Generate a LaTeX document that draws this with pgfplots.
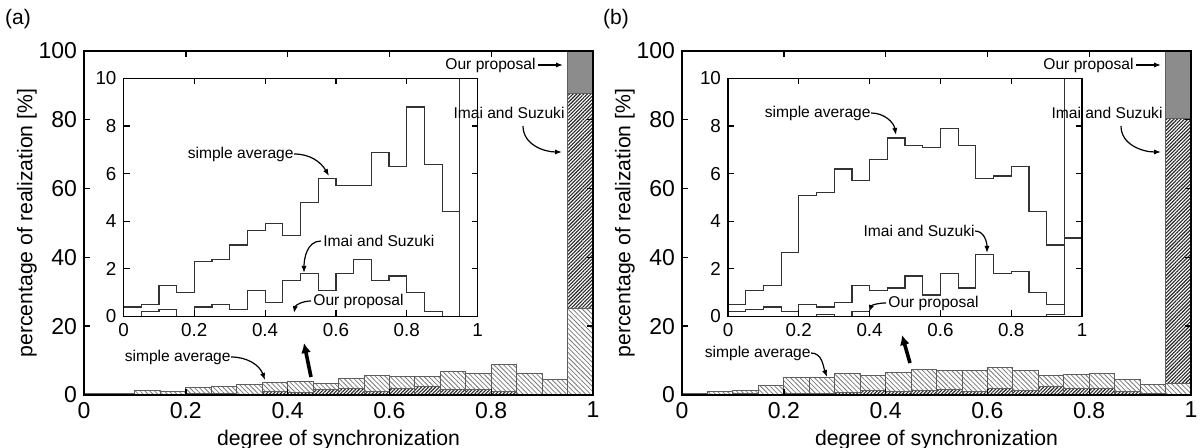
\documentclass[border=0pt]{standalone}
\usepackage{fontspec}
\setmainfont{Liberation Sans}
\usepackage{pgfplots}
\usepackage{pgfplotstable}
\pgfplotsset{compat=1.18}
\usetikzlibrary{patterns.meta,arrows.meta}

\definecolor{bargray}{HTML}{5E5E5E}
\definecolor{simplehatch}{HTML}{7A7A7A}
\definecolor{imaihatch}{HTML}{262626}
\definecolor{ourfill}{HTML}{8C8C8C}
\definecolor{stepline}{HTML}{333333}

% left bin edges; last row only closes the step line at x=1
\pgfplotstableread{
x    simple imai our
0.00 0.4  0.0  0
0.05 0.5  0.2  0
0.10 1.3  0.3  0
0.15 1.0  0.0  0
0.20 2.3  0.4  0
0.25 2.4  0.5  0
0.30 3.0  0.3  0
0.35 3.6  1.1  0
0.40 3.9  0.6  0
0.45 3.4  1.5  0
0.50 4.8  1.8  0
0.55 5.8  1.1  0
0.60 5.5  1.8  0
0.65 5.5  2.4  0
0.70 6.9  1.5  0
0.75 6.3  1.7  0
0.80 8.8  1.0  0
0.85 6.4  0.2  0
0.90 4.4  0.0  0
0.95 25.3 87.7 100
1.00 25.3 87.7 100
}\dataA

\pgfplotstableread{
x    simple imai our
0.00 0.5  0.2  0
0.05 1.1  0.3  0
0.10 1.3  0.4  0
0.15 2.7  0.2  0
0.20 5.1  0.5  0
0.25 5.2  0.4  0.1
0.30 6.2  0.6  0
0.35 5.7  1.3  0.2
0.40 6.6  1.1  0
0.45 7.5  1.2  0
0.50 7.2  1.7  0
0.55 7.1  0.9  0
0.60 7.9  1.8  0
0.65 7.2  1.2  0
0.70 5.8  2.6  0
0.75 5.9  1.8  0
0.80 6.3  1.9  0
0.85 4.4  1.0  0
0.90 3.0  0.5  0.1
0.95 3.3  80.4 100
1.00 3.3  80.4 100
}\dataB

\pgfplotsset{
  mainax/.style={
    scale only axis, width=254.5pt, height=172pt,
    xmin=0, xmax=1, ymin=0, ymax=100,
    xtick={0,0.2,0.4,0.6,0.8,1}, ytick={0,20,40,60,80,100},
    /pgf/number format/assume math mode=true,
    tick label style={font=\fontsize{11.5}{13}\selectfont},
    xticklabel style={inner xsep=0pt},
    label style={font=\fontsize{10.6}{12}\selectfont},
    xlabel={degree of synchronization},
    ylabel={percentage of realization [\%]},
    ylabel shift=-6pt,
    xlabel shift=-1pt,
    axis line style={line width=0.9pt},
    tick style={line width=0.7pt, black},
    major tick length=3pt,
    axis on top,
  },
  inax/.style={
    scale only axis, width=177pt, height=119pt,
    xmin=0, xmax=1, ymin=0, ymax=10,
    xtick={0,0.2,0.4,0.6,0.8,1}, ytick={0,2,4,6,8,10},
    /pgf/number format/assume math mode=true,
    tick label style={font=\fontsize{9.4}{10}\selectfont},
    axis background/.style={fill=white},
    axis line style={line width=0.9pt},
    tick style={line width=0.6pt, black},
    major tick length=3pt,
    axis on top,
  },
  barbase/.style={ybar, bar width=0.05, bar shift=0pt, draw=bargray, line width=0.45pt},
  simplebar/.style={barbase, fill=white,
    postaction={pattern={Lines[angle=-45,distance=1.7pt,line width=0.4pt]}, pattern color=simplehatch}},
  imaibar/.style={barbase, fill=white,
    postaction={pattern={Lines[angle=45,distance=1.25pt,line width=0.55pt]}, pattern color=imaihatch}},
  ourbar/.style={barbase, fill=ourfill},
  histsteps/.style={const plot, no marks, draw=stepline, line width=0.6pt},
}
\tikzset{
  note/.style={font=\fontsize{7.8}{9}\selectfont, inner sep=0pt},
  arr/.style={line width=0.6pt, -{Latex[length=3.5pt,width=2.6pt]}},
  bigarr/.style={line width=1.8pt, -{Latex[length=5pt,width=5pt]}},
}

\begin{document}
\begin{tikzpicture}
\useasboundingbox (0,0) rectangle (600pt,224pt);

% ---------- panel (a) ----------
\begin{axis}[mainax, at={(42pt,26.5pt)}, anchor=south west]
\addplot[ourbar] table[x expr=\thisrow{x}+0.025, y=our, restrict x to domain=0:0.99] {\dataA};
\addplot[simplebar] table[x expr=\thisrow{x}+0.025, y=simple, restrict x to domain=0:0.96] {\dataA};
\addplot[imaibar] table[x expr=\thisrow{x}+0.025, y=imai, restrict x to domain=0:0.96] {\dataA};
\addplot[imaibar] table[x expr=\thisrow{x}+0.025, y=imai, restrict x to domain=0.96:0.99] {\dataA};
\addplot[simplebar] table[x expr=\thisrow{x}+0.025, y=simple, restrict x to domain=0.96:0.99] {\dataA};
\end{axis}
\begin{axis}[inax, at={(61.75pt,65.75pt)}, anchor=south west]
\addplot[histsteps] table[x=x, y=simple] {\dataA};
\addplot[histsteps] table[x=x, y=imai] {\dataA};
\addplot[histsteps] table[x=x, y=our] {\dataA};
\end{axis}

% ---------- panel (b) ----------
\begin{axis}[mainax, at={(341pt,26.5pt)}, anchor=south west]
\addplot[ourbar] table[x expr=\thisrow{x}+0.025, y=our, restrict x to domain=0:0.99] {\dataB};
\addplot[simplebar] table[x expr=\thisrow{x}+0.025, y=simple, restrict x to domain=0:0.96] {\dataB};
\addplot[imaibar] table[x expr=\thisrow{x}+0.025, y=imai, restrict x to domain=0:0.96] {\dataB};
\addplot[imaibar] table[x expr=\thisrow{x}+0.025, y=imai, restrict x to domain=0.96:0.99] {\dataB};
\addplot[simplebar] table[x expr=\thisrow{x}+0.025, y=simple, restrict x to domain=0.96:0.99] {\dataB};
\end{axis}
\begin{axis}[inax, at={(364pt,65.75pt)}, anchor=south west]
\addplot[histsteps] table[x=x, y=simple] {\dataB};
\addplot[histsteps] table[x=x, y=imai] {\dataB};
\addplot[histsteps] table[x=x, y=our] {\dataB};
\end{axis}

% panel letters
\node[font=\fontsize{10.5}{12}\selectfont] at (9pt,214.5pt) {(a)};
\node[font=\fontsize{10.5}{12}\selectfont] at (308pt,214.5pt) {(b)};

% annotations (a)
\node[note, anchor=east] at (268pt,191.5pt) {Our proposal};
\draw[arr] (269pt,191.5pt) -- (281.5pt,191.5pt);
\node[note] at (254.5pt,167.5pt) {Imai and Suzuki};
\draw[arr] (261.5pt,161pt) to[out=-90,in=180] (281pt,148pt);
\node[note, anchor=east] at (115.5pt,45.5pt) {simple average};
\draw[arr] (115.5pt,45.5pt) to[out=0,in=110] (132.5pt,34pt);
\draw[bigarr] (155.5pt,35.5pt) -- (152pt,52.5pt);
\node[note, anchor=east] at (147pt,147pt) {simple average};
\draw[arr] (147pt,147pt) to[out=0,in=120] (164.5pt,136pt);
\node[note, anchor=west] at (161.5pt,103.5pt) {Imai and Suzuki};
\draw[arr] (160.5pt,103.5pt) to[out=180,in=90] (152pt,87.5pt);
\node[note, anchor=west] at (156.5pt,73.5pt) {Our proposal};
\draw[arr] (155.5pt,73.5pt) to[out=180,in=80] (147pt,67.5pt);

% annotations (b)
\node[note, anchor=east] at (567pt,191.5pt) {Our proposal};
\draw[arr] (568pt,191.5pt) -- (580.5pt,191.5pt);
\node[note] at (553.5pt,167.5pt) {Imai and Suzuki};
\draw[arr] (560.5pt,161pt) to[out=-90,in=180] (580.5pt,148pt);
\node[note, anchor=east] at (405.5pt,47.5pt) {simple average};
\draw[arr] (405.5pt,47.5pt) to[out=0,in=110] (413.5pt,35.5pt);
\draw[bigarr] (455pt,42.5pt) -- (451pt,56.5pt);
\node[note, anchor=east] at (435.5pt,167.5pt) {simple average};
\draw[arr] (435.5pt,167.5pt) to[out=0,in=100] (448pt,156.5pt);
\node[note, anchor=east] at (487.5pt,108.5pt) {Imai and Suzuki};
\draw[arr] (487.5pt,108.5pt) to[out=0,in=90] (493.5pt,97.5pt);
\node[note, anchor=west] at (444pt,72.5pt) {Our proposal};
\draw[arr] (443pt,72.5pt) to[out=180,in=70] (434.5pt,68pt);
\end{tikzpicture}
\end{document}
